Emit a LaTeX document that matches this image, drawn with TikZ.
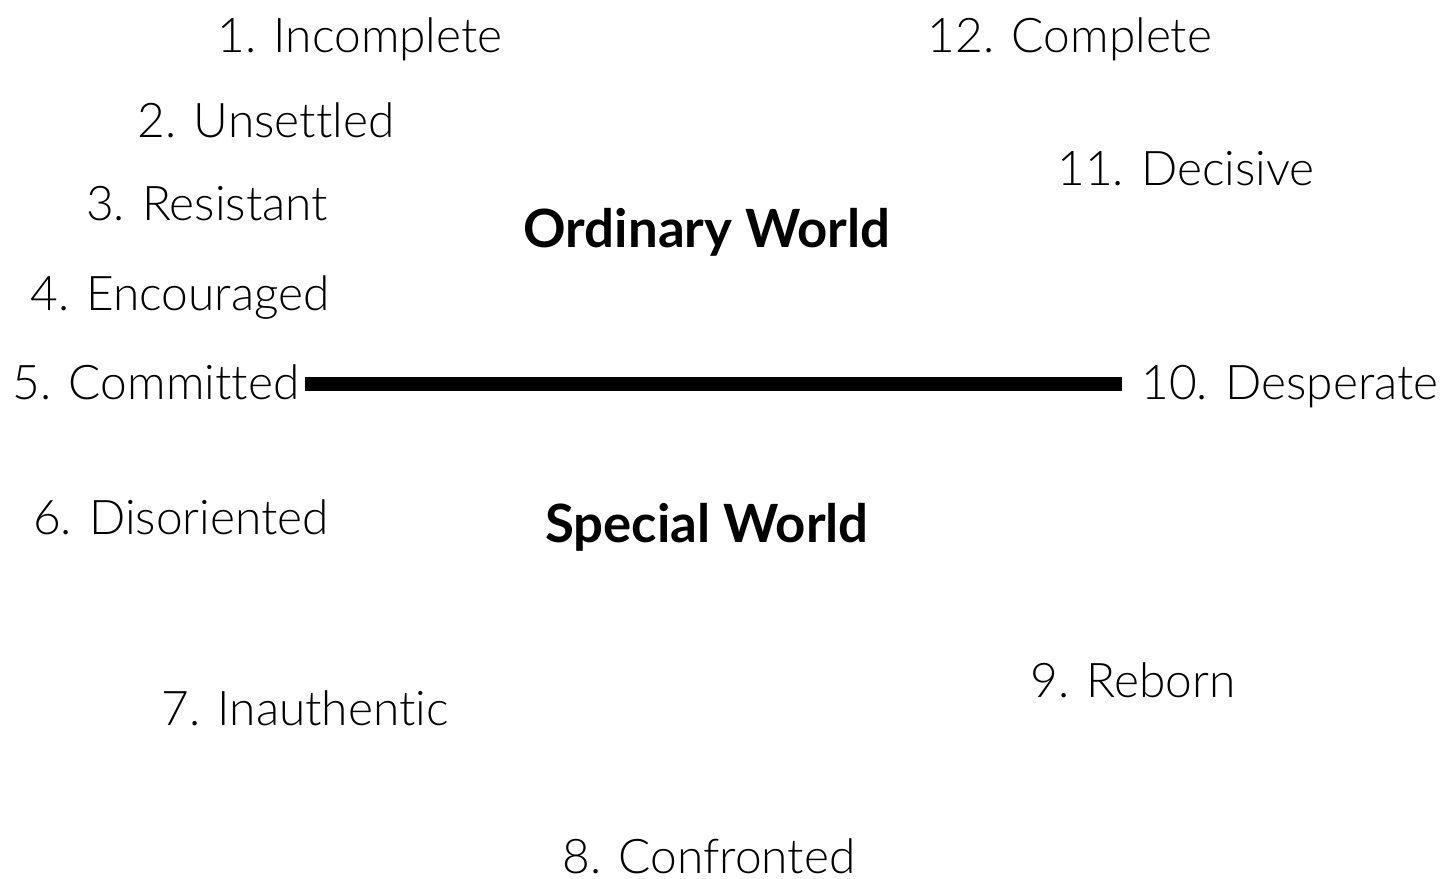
\documentclass[tikz,border=0pt]{standalone}
\usepackage{fontspec}
\setmainfont{Lato}[UprightFont={* Light},BoldFont={* Bold},Ligatures=NoCommon]
\begin{document}
\begin{tikzpicture}[x=0.01cm,y=-0.01cm,
  lbl/.style={anchor=base,inner sep=0pt,font=\fontsize{13.6}{16}\selectfont},
  wld/.style={anchor=base,inner sep=0pt,font=\fontsize{15}{18}\selectfont\bfseries}]
\useasboundingbox (0,0) rectangle (1451,878);
\node[lbl] (s1) at (360,52) {1. Incomplete};
\node[lbl] (s2) at (266,137) {2. Unsettled};
\node[lbl] (s3) at (207,220) {3. Resistant};
\node[lbl] (s4) at (180,310) {4. Encouraged};
\node[lbl] (s5) at (156,399) {5. Committed};
\node[lbl] (s6) at (181,534) {6. Disoriented};
\node[lbl] (s7) at (305,725) {7. Inauthentic};
\node[lbl] (s8) at (709,873) {8. Confronted};
\node[lbl] (s9) at (1133,697) {9. Reborn};
\node[lbl] (s10) at (1290,399) {10. Desperate};
\node[lbl] (s11) at (1186,185) {11. Decisive};
\node[lbl] (s12) at (1070,52) {12. Complete};
\node[wld] (ow) at (707,247) {Ordinary World};
\node[wld] (sw) at (707,542) {Special World};
\coordinate (ls) at (305,384);
\coordinate (le) at (1122,384);
\draw[line width=0.145cm] (ls) -- (le);
\end{tikzpicture}
\end{document}
